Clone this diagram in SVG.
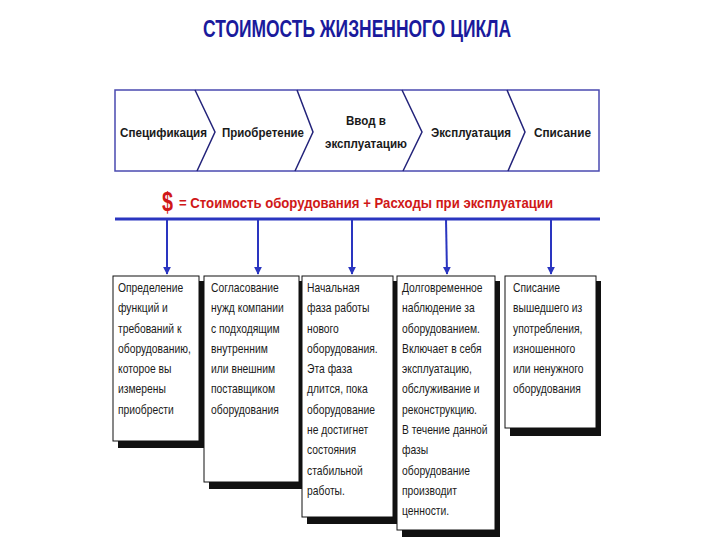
<svg xmlns="http://www.w3.org/2000/svg" width="720" height="540" viewBox="0 0 720 540">
<defs>
<style>
.t{font-family:"Liberation Sans",Arial,sans-serif;}
.title{font-size:23px;font-weight:bold;fill:#1a1a9c;}
.ph{font-size:13px;font-weight:bold;fill:#1a1a1a;text-anchor:middle;}
.red{font-size:15px;font-weight:bold;fill:#d01818;}
.bx{font-size:12px;fill:#1a1a1a;}
.box{fill:#ffffff;stroke:#111;stroke-width:1;}
.sh{fill:#111;}
.chev{fill:none;stroke:#23237a;stroke-width:1.5;}
.arr{stroke:#2a35c0;stroke-width:2;fill:none;marker-end:url(#ah);}
</style>
<marker id="ah" viewBox="0 0 10 10" refX="9" refY="5" markerWidth="4" markerHeight="4" orient="auto">
<path d="M0,0 L10,5 L0,10 z" fill="#2a35c0"/>
</marker>
</defs>
<rect x="0" y="0" width="720" height="540" fill="#ffffff"/>

<g id="title">
<text class="t title" x="357" y="37" text-anchor="middle" textLength="308" lengthAdjust="spacingAndGlyphs">СТОИМОСТЬ ЖИЗНЕННОГО ЦИКЛА</text>
</g>

<g id="phases">
<rect x="115" y="90" width="484" height="81" fill="#ffffff" stroke="#4a4ab0" stroke-width="1.5"/>
<path class="chev" d="M195,90 L215,132 L197,171"/>
<path class="chev" d="M297,90 L313,132 L295,171"/>
<path class="chev" d="M402,90 L422,132 L403,171"/>
<path class="chev" d="M507,90 L525,132 L508,171"/>
<g id="phase1"><text class="t ph" x="163.5" y="137" textLength="87" lengthAdjust="spacingAndGlyphs">Спецификация</text></g>
<g id="phase2"><text class="t ph" x="263" y="137" textLength="82" lengthAdjust="spacingAndGlyphs">Приобретение</text></g>
<g id="phase3"><text class="t ph" x="366" y="125" textLength="40" lengthAdjust="spacingAndGlyphs">Ввод в</text><text class="t ph" x="366" y="148" textLength="82" lengthAdjust="spacingAndGlyphs">эксплуатацию</text></g>
<g id="phase4"><text class="t ph" x="471" y="137" textLength="80" lengthAdjust="spacingAndGlyphs">Эксплуатация</text></g>
<g id="phase5"><text class="t ph" x="562.5" y="137" textLength="57" lengthAdjust="spacingAndGlyphs">Списание</text></g>
</g>

<g id="formula">
<text class="t" x="162" y="211" font-size="27" font-weight="bold" fill="#d01818" textLength="11" lengthAdjust="spacingAndGlyphs">$</text>
<text class="t red" x="179" y="208" textLength="374" lengthAdjust="spacingAndGlyphs">= Стоимость оборудования + Расходы при эксплуатации</text>
</g>

<g id="connectors">
<line x1="115" y1="219" x2="600" y2="219" stroke="#2a35c0" stroke-width="3"/>
<line class="arr" x1="167" y1="219" x2="167" y2="274"/>
<line class="arr" x1="258" y1="219" x2="258" y2="274"/>
<line class="arr" x1="352" y1="219" x2="352" y2="274"/>
<line class="arr" x1="446" y1="219" x2="447" y2="274"/>
<line class="arr" x1="551" y1="219" x2="551" y2="274"/>
</g>

<g id="box1">
<rect class="sh" x="118" y="281" width="86" height="167"/>
<rect class="box" x="113" y="276" width="86" height="165"/>
<g transform="translate(118,0) scale(0.86,1)">
<text class="t bx"><tspan x="0" y="292">Определение</tspan><tspan x="0" dy="20.3">функций и</tspan><tspan x="0" dy="20.3">требований к</tspan><tspan x="0" dy="20.3">оборудованию,</tspan><tspan x="0" dy="20.3">которое вы</tspan><tspan x="0" dy="20.3">измерены</tspan><tspan x="0" dy="20.3">приобрести</tspan></text>
</g>
</g>

<g id="box2">
<rect class="sh" x="209" y="281" width="95" height="208"/>
<rect class="box" x="204" y="276" width="95" height="206"/>
<g transform="translate(211,0) scale(0.86,1)">
<text class="t bx"><tspan x="0" y="292">Согласование</tspan><tspan x="0" dy="20.3">нужд компании</tspan><tspan x="0" dy="20.3">с подходящим</tspan><tspan x="0" dy="20.3">внутренним</tspan><tspan x="0" dy="20.3">или внешним</tspan><tspan x="0" dy="20.3">поставщиком</tspan><tspan x="0" dy="20.3">оборудования</tspan></text>
</g>
</g>

<g id="box3">
<rect class="sh" x="307" y="281" width="91" height="243"/>
<rect class="box" x="302" y="276" width="91" height="241"/>
<g transform="translate(307,0) scale(0.86,1)">
<text class="t bx"><tspan x="0" y="292">Начальная</tspan><tspan x="0" dy="20.3">фаза работы</tspan><tspan x="0" dy="20.3">нового</tspan><tspan x="0" dy="20.3">оборудования.</tspan><tspan x="0" dy="20.3">Эта фаза</tspan><tspan x="0" dy="20.3">длится, пока</tspan><tspan x="0" dy="20.3">оборудование</tspan><tspan x="0" dy="20.3">не достигнет</tspan><tspan x="0" dy="20.3">состояния</tspan><tspan x="0" dy="20.3">стабильной</tspan><tspan x="0" dy="20.3">работы.</tspan></text>
</g>
</g>

<g id="box4">
<rect class="sh" x="402" y="281" width="98" height="256"/>
<rect class="box" x="397" y="276" width="98" height="254"/>
<g transform="translate(402,0) scale(0.86,1)">
<text class="t bx"><tspan x="0" y="292">Долговременное</tspan><tspan x="0" dy="20.3">наблюдение за</tspan><tspan x="0" dy="20.3">оборудованием.</tspan><tspan x="0" dy="20.3">Включает в себя</tspan><tspan x="0" dy="20.3">эксплуатацию,</tspan><tspan x="0" dy="20.3">обслуживание и</tspan><tspan x="0" dy="20.3">реконструкцию.</tspan><tspan x="0" dy="20.3">В течение данной</tspan><tspan x="0" dy="20.3">фазы</tspan><tspan x="0" dy="20.3">оборудование</tspan><tspan x="0" dy="20.3">производит</tspan><tspan x="0" dy="20.3">ценности.</tspan></text>
</g>
</g>

<g id="box5">
<rect class="sh" x="510" y="281" width="91" height="155"/>
<rect class="box" x="505" y="276" width="91" height="152"/>
<g transform="translate(513,0) scale(0.86,1)">
<text class="t bx"><tspan x="0" y="292">Списание</tspan><tspan x="0" dy="20.3">вышедшего из</tspan><tspan x="0" dy="20.3">употребления,</tspan><tspan x="0" dy="20.3">изношенного</tspan><tspan x="0" dy="20.3">или ненужного</tspan><tspan x="0" dy="20.3">оборудования</tspan></text>
</g>
</g>
</svg>
